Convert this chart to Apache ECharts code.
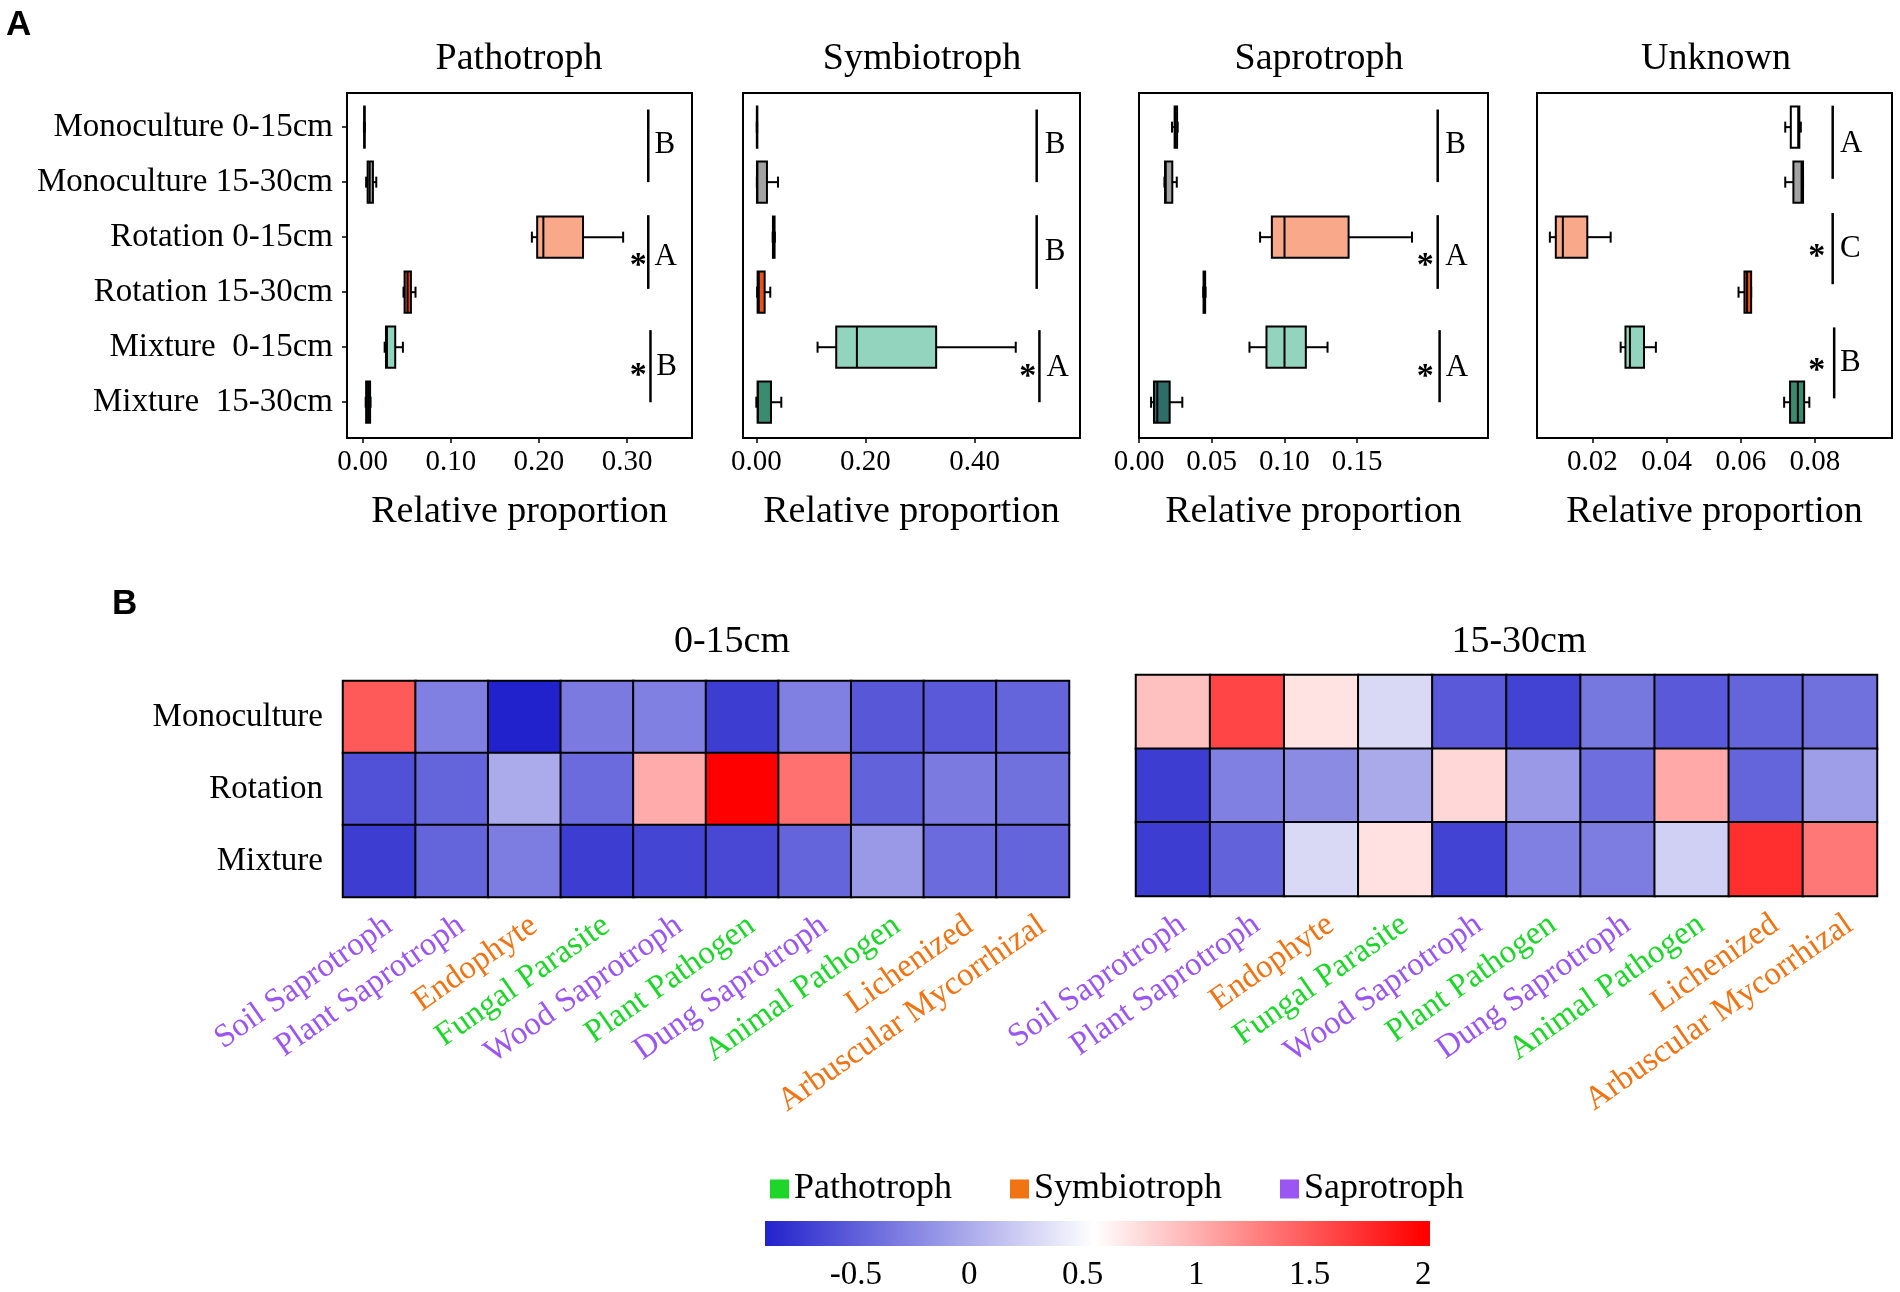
<!DOCTYPE html>
<html><head><meta charset="utf-8">
<script src="https://cdn.jsdelivr.net/npm/echarts@6/dist/echarts.min.js"></script>
<style>html,body{margin:0;padding:0;background:#fff}#c{width:1900px;height:1292px}</style>
</head><body><div id="c"></div>
<script>
// ---------- DATA ----------
const groups = ['Monoculture 0-15cm','Monoculture 15-30cm','Rotation 0-15cm','Rotation 15-30cm','Mixture  0-15cm','Mixture  15-30cm'];
const groupColors = ['#FFFFFF','#A3A3A3','#F9A98A','#E8501E','#93D4BE','#3A8B70'];
const panelTitles = ['Pathotroph','Symbiotroph','Saprotroph','Unknown'];

// [min, Q1, median, Q3, max] per group (relative proportion)
const pathotrophBox = [
  [0.0015,0.0018,0.002,0.0022,0.0025],
  [0.004,0.0057,0.008,0.0117,0.0155],
  [0.192,0.198,0.205,0.250,0.2955],
  [0.0464,0.0476,0.051,0.0548,0.060],
  [0.025,0.0265,0.0276,0.037,0.0457],
  [0.0035,0.004,0.0062,0.0085,0.009]
];
const symbiotrophBox = [
  [0.0008,0.001,0.0012,0.0014,0.0016],
  [0.001,0.0012,0.002,0.0195,0.0397],
  [0.030,0.0305,0.0322,0.0335,0.034],
  [0.0015,0.0024,0.0045,0.0153,0.0256],
  [0.1123,0.1465,0.1844,0.3297,0.4756],
  [0.0,0.0024,0.003,0.0269,0.0458]
];
const saprotrophBox = [
  [0.0227,0.0245,0.025,0.0262,0.0266],
  [0.0175,0.0179,0.0184,0.0229,0.026],
  [0.0833,0.0914,0.1001,0.1442,0.1878],
  [0.0442,0.0444,0.045,0.0455,0.0458],
  [0.076,0.0877,0.1001,0.1148,0.1297],
  [0.0083,0.0103,0.0126,0.0211,0.0298]
];
const unknownBox = [
  [0.072,0.0735,0.0755,0.0758,0.0762],
  [0.072,0.0742,0.0764,0.0768,0.0768],
  [0.0085,0.0101,0.012,0.0186,0.0249],
  [0.0594,0.061,0.0617,0.0628,0.0628],
  [0.0276,0.0289,0.0301,0.0339,0.0371],
  [0.0717,0.0733,0.0754,0.0771,0.0785]
];

// axis limits and tick values
const pathotrophRange = [-0.0177, 0.3736];
const symbiotrophRange = [-0.0244, 0.5934];
const saprotrophRange = [0, 0.2401];
const unknownRange = [0.00503, 0.1008];
const pathotrophTicks = [0, 0.1, 0.2, 0.3];
const symbiotrophTicks = [0, 0.2, 0.4];
const saprotrophTicks = [0, 0.05, 0.1, 0.15];
const unknownTicks = [0.02, 0.04, 0.06, 0.08];
const rowRange = [-0.62, 5.65];

// significance brackets (data coords: x value, row from / to)
const pathotrophBrackets = [{x:0.324,y0:-0.32,y1:1.0},{x:0.324,y0:1.6,y1:2.94},{x:0.3265,y0:3.69,y1:5.0}];
const symbiotrophBrackets = [{x:0.514,y0:-0.32,y1:1.0},{x:0.514,y0:1.6,y1:2.94},{x:0.519,y0:3.69,y1:5.0}];
const saprotrophBrackets = [{x:0.2055,y0:-0.32,y1:1.0},{x:0.2055,y0:1.6,y1:2.94},{x:0.2068,y0:3.69,y1:5.0}];
const unknownBrackets = [{x:0.0848,y0:-0.39,y1:0.94},{x:0.0848,y0:1.56,y1:2.855},{x:0.0852,y0:3.64,y1:4.93}];
// letters (x, row, text, asterisk x or null)
const pathotrophLetters = [{x:0.331,y:0.33,t:'B',sx:null},{x:0.331,y:2.36,t:'A',sx:0.3125},{x:0.333,y:4.36,t:'B',sx:0.3125}];
const symbiotrophLetters = [{x:0.529,y:0.33,t:'B',sx:null},{x:0.529,y:2.27,t:'B',sx:null},{x:0.532,y:4.38,t:'A',sx:0.4976}];
const saprotrophLetters = [{x:0.2107,y:0.33,t:'B',sx:null},{x:0.2107,y:2.36,t:'A',sx:0.197},{x:0.211,y:4.38,t:'A',sx:0.197}];
const unknownLetters = [{x:0.0868,y:0.30,t:'A',sx:null},{x:0.0868,y:2.21,t:'C',sx:0.0805},{x:0.0868,y:4.28,t:'B',sx:0.0805}];

// heatmaps
const treatments = ['Monoculture','Rotation','Mixture'];
const guilds = ['Soil Saprotroph','Plant Saprotroph','Endophyte','Fungal Parasite','Wood Saprotroph','Plant Pathogen','Dung Saprotroph','Animal Pathogen','Lichenized','Arbuscular Mycorrhizal'];
const guildTrophic = ['Saprotroph','Saprotroph','Symbiotroph','Pathotroph','Saprotroph','Pathotroph','Saprotroph','Pathotroph','Symbiotroph','Symbiotroph'];
const heat0to15 = [
  [1.49,-0.28,-0.9,-0.32,-0.28,-0.72,-0.28,-0.55,-0.54,-0.46],
  [-0.59,-0.47,0.0,-0.42,1.03,2.0,1.36,-0.48,-0.32,-0.38],
  [-0.72,-0.47,-0.31,-0.72,-0.67,-0.65,-0.47,-0.12,-0.42,-0.46]
];
const heat15to30 = [
  [0.91,1.61,0.71,0.30,-0.54,-0.69,-0.34,-0.54,-0.46,-0.38],
  [-0.72,-0.28,-0.21,-0.01,0.78,-0.12,-0.40,1.04,-0.47,-0.09],
  [-0.72,-0.48,0.30,0.72,-0.69,-0.28,-0.31,0.24,1.73,1.32]
];
const heatScaleValues = [-0.9, 0.55, 2.0];
const heatScaleColors = ['#2222CC','#FFFFFF','#FF0000'];
const colorbarRange = [-0.9, 2.03];
const colorbarTicks = [-0.5, 0, 0.5, 1, 1.5, 2];
const trophicNames = ['Pathotroph','Symbiotroph','Saprotroph'];
const trophicColors = ['#1ED62A','#F07314','#9B55F2'];

// ---------- CHART ----------
const FONT = "'Liberation Serif','Times New Roman',serif";
const SANS = "'Liberation Sans',Arial,sans-serif";
const trophicColorOf = {};
trophicNames.forEach((n,i)=>trophicColorOf[n]=trophicColors[i]);

const panels = [
  {box:pathotrophBox, range:pathotrophRange, ticks:pathotrophTicks, br:pathotrophBrackets, le:pathotrophLetters, grid:{left:347,top:93,width:345,height:345}, tx:519},
  {box:symbiotrophBox, range:symbiotrophRange, ticks:symbiotrophTicks, br:symbiotrophBrackets, le:symbiotrophLetters, grid:{left:743,top:93,width:337,height:345}, tx:922},
  {box:saprotrophBox, range:saprotrophRange, ticks:saprotrophTicks, br:saprotrophBrackets, le:saprotrophLetters, grid:{left:1139,top:93,width:349,height:345}, tx:1319},
  {box:unknownBox, range:unknownRange, ticks:unknownTicks, br:unknownBrackets, le:unknownLetters, grid:{left:1537,top:93,width:355,height:345}, tx:1716}
];
const boxColorsPerPanel = [groupColors, groupColors, groupColors.map((c,i)=> i===5 ? '#2F6E66' : c), groupColors];

function boxRender(boxes, colors){
  return function(params, api){
    const i = params.dataIndex;
    const b = boxes[i];
    const band = Math.abs(api.size([0,1])[1]);
    const hb = band*0.375, hc = band*0.1;
    const P = v => api.coord([v, i]);
    const pMin=P(b[0]), pQ1=P(b[1]), pMed=P(b[2]), pQ3=P(b[3]), pMax=P(b[4]);
    const y = pMed[1];
    const ls = {stroke:'#000', lineWidth:2};
    return {type:'group', children:[
      {type:'line', shape:{x1:pMin[0],y1:y,x2:pQ1[0],y2:y}, style:ls},
      {type:'line', shape:{x1:pQ3[0],y1:y,x2:pMax[0],y2:y}, style:ls},
      {type:'line', shape:{x1:pMin[0],y1:y-hc,x2:pMin[0],y2:y+hc}, style:ls},
      {type:'line', shape:{x1:pMax[0],y1:y-hc,x2:pMax[0],y2:y+hc}, style:ls},
      {type:'rect', shape:{x:pQ1[0], y:y-hb, width:Math.max(pQ3[0]-pQ1[0],0.5), height:2*hb}, style:{fill:colors[i], stroke:'#000', lineWidth:2}},
      {type:'line', shape:{x1:pMed[0],y1:y-hb,x2:pMed[0],y2:y+hb}, style:ls}
    ]};
  };
}
function bracketRender(list){
  return (params, api) => {
    const b = list[params.dataIndex];
    const p0 = api.coord([b.x, b.y0]), p1 = api.coord([b.x, b.y1]);
    return {type:'line', shape:{x1:p0[0],y1:p0[1],x2:p1[0],y2:p1[1]}, style:{stroke:'#000', lineWidth:2.5}};
  };
}
function letterRender(list){
  return (params, api) => {
    const l = list[params.dataIndex];
    const p = api.coord([l.x, l.y]);
    const ch = [{type:'text', style:{text:l.t, x:p[0], y:p[1], align:'left', verticalAlign:'middle', font:'31px '+FONT, fill:'#000'}}];
    if (l.sx != null) {
      const q = api.coord([l.sx, l.y]);
      ch.push({type:'text', style:{text:'*', x:q[0], y:q[1]+9, align:'center', verticalAlign:'middle', font:'bold 34px '+FONT, fill:'#000'}});
    }
    return {type:'group', children:ch};
  };
}

const grid = [], xAxis = [], yAxis = [], series = [], title = [];
panels.forEach((p, k) => {
  grid.push(Object.assign({show:true, borderColor:'#000', borderWidth:2, backgroundColor:'transparent', containLabel:false}, p.grid));
  xAxis.push({type:'value', gridIndex:k, min:p.range[0], max:p.range[1],
    axisLine:{show:true, onZero:false, lineStyle:{color:'#000', width:2}},
    axisTick:{show:true, customValues:p.ticks, length:5, lineStyle:{color:'#000', width:1.5}},
    axisLabel:{customValues:p.ticks, formatter:v=>Number(v).toFixed(2), fontFamily:FONT, fontSize:29, color:'#000', margin:10},
    splitLine:{show:false},
    name:'Relative proportion', nameLocation:'middle', nameGap:55,
    nameTextStyle:{fontFamily:FONT, fontSize:38, color:'#000'}});
  yAxis.push({type:'value', gridIndex:k, min:rowRange[0], max:rowRange[1], inverse:true,
    axisLine:{show:false, onZero:false}, splitLine:{show:false},
    axisTick:{show:k===0, customValues:[0,1,2,3,4,5], length:5, lineStyle:{color:'#000', width:1.5}},
    axisLabel:{show:k===0, customValues:[0,1,2,3,4,5], formatter:v=>groups[Math.round(v)] || '', fontFamily:FONT, fontSize:33, color:'#000', margin:14}});
  series.push({type:'custom', xAxisIndex:k, yAxisIndex:k, renderItem:boxRender(p.box, boxColorsPerPanel[k]),
    data:p.box.map((b,i)=>[b[2], i]), encode:{x:0, y:1}, z:3});
  series.push({type:'custom', xAxisIndex:k, yAxisIndex:k, renderItem:bracketRender(p.br),
    data:p.br.map(b=>[b.x, b.y0]), encode:{x:0, y:1}, z:3});
  series.push({type:'custom', xAxisIndex:k, yAxisIndex:k, renderItem:letterRender(p.le),
    data:p.le.map(l=>[l.x, l.y]), encode:{x:0, y:1}, z:3});
  title.push({text:panelTitles[k], left:p.tx, top:40, textAlign:'center', padding:0,
    textStyle:{fontFamily:FONT, fontSize:38, fontWeight:'normal', color:'#000'}});
});

// heatmaps
const heatDefs = [
  {vals:heat0to15, grid:{left:343,top:681,width:726,height:216}, title:'0-15cm', tx:732, showY:true},
  {vals:heat15to30, grid:{left:1136,top:675,width:741,height:221}, title:'15-30cm', tx:1519, showY:false}
];
const heatSeriesIdx = [];
heatDefs.forEach((h, j) => {
  const gi = grid.length;
  grid.push(Object.assign({show:false, containLabel:false}, h.grid));
  xAxis.push({type:'category', gridIndex:gi, data:guilds, axisLine:{show:false}, axisTick:{show:false}, splitLine:{show:false},
    axisLabel:{interval:0, rotate:35, align:'right', verticalAlign:'top', fontFamily:FONT, fontSize:33, margin:12,
      color:(v, idx) => trophicColorOf[guildTrophic[idx !== undefined ? idx : guilds.indexOf(v)]]}});
  yAxis.push({type:'category', gridIndex:gi, data:treatments, inverse:true, axisLine:{show:false}, axisTick:{show:false}, splitLine:{show:false},
    axisLabel:{show:h.showY, fontFamily:FONT, fontSize:33, color:'#000', margin:20}});
  const data = [];
  h.vals.forEach((row, r) => row.forEach((v, c) => data.push([c, r, v])));
  heatSeriesIdx.push(series.length);
  series.push({type:'heatmap', xAxisIndex:gi, yAxisIndex:gi, data:data,
    itemStyle:{borderColor:'#000', borderWidth:2}, emphasis:{disabled:true}});
  title.push({text:h.title, left:h.tx, top:623, textAlign:'center', padding:0,
    textStyle:{fontFamily:FONT, fontSize:38, fontWeight:'normal', color:'#000'}});
});

// colour bar
const cbGrid = grid.length;
grid.push({left:765, top:1221, width:665, height:25, show:false});
xAxis.push({type:'value', gridIndex:cbGrid, min:colorbarRange[0], max:colorbarRange[1],
  axisLine:{show:false}, axisTick:{show:false}, splitLine:{show:false},
  axisLabel:{customValues:colorbarTicks, fontFamily:FONT, fontSize:33, color:'#000', margin:13}});
yAxis.push({type:'value', gridIndex:cbGrid, min:0, max:1, show:false});
const span = colorbarRange[1]-colorbarRange[0];
const stops = heatScaleValues.map((v,i)=>({offset:Math.min(1,Math.max(0,(v-colorbarRange[0])/span)), color:heatScaleColors[i]}));
series.push({type:'custom', xAxisIndex:cbGrid, yAxisIndex:cbGrid, data:[[colorbarRange[0],0]], encode:{x:0,y:1},
  renderItem:(params, api) => {
    const p0 = api.coord([colorbarRange[0], 0]), p1 = api.coord([colorbarRange[1], 1]);
    return {type:'rect', shape:{x:p0[0], y:p1[1], width:p1[0]-p0[0], height:p0[1]-p1[1]},
      style:{fill:new echarts.graphic.LinearGradient(0,0,1,0,stops)}};
  }});
// legend dummy series
trophicNames.forEach((n,i) => {
  series.push({type:'scatter', name:n, xAxisIndex:cbGrid, yAxisIndex:cbGrid, data:[], itemStyle:{color:trophicColors[i], opacity:1}});
});

title.push({text:'A', left:6, top:8, padding:0, textStyle:{fontFamily:SANS, fontSize:35, fontWeight:'bold', color:'#000'}});
title.push({text:'B', left:112, top:587, padding:0, textStyle:{fontFamily:SANS, fontSize:35, fontWeight:'bold', color:'#000'}});

const chart = echarts.init(document.getElementById('c'), null, {renderer:'canvas'});
chart.setOption({
  backgroundColor:'#fff',
  animation:false,
  title:title,
  grid:grid, xAxis:xAxis, yAxis:yAxis,
  visualMap:{type:'continuous', show:false, seriesIndex:heatSeriesIdx, dimension:2,
    min:heatScaleValues[0], max:heatScaleValues[2], inRange:{color:heatScaleColors}},
  legend:{data:trophicNames, left:770, top:1171, padding:0, icon:'rect', itemWidth:19, itemHeight:19, itemGap:58,
    textStyle:{fontFamily:FONT, fontSize:36, color:'#000'}},
  series:series
});
</script></body></html>
